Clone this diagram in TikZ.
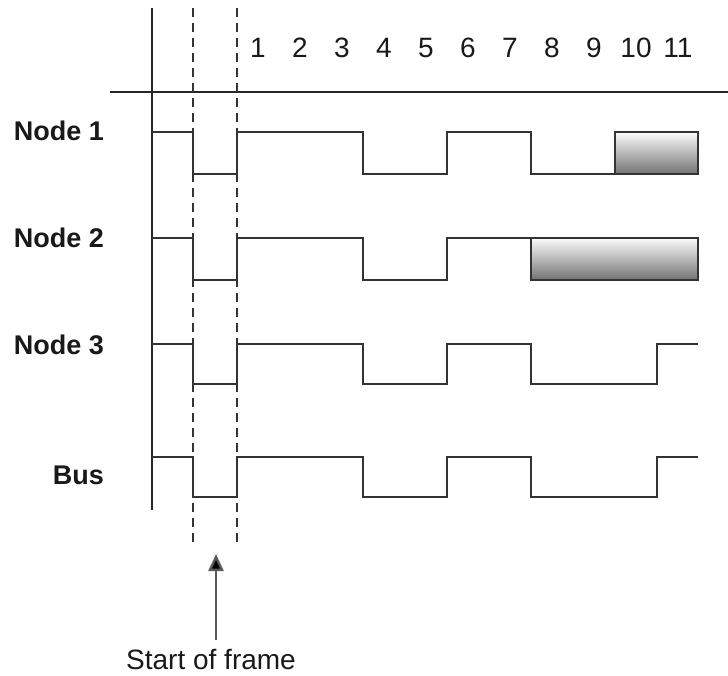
\documentclass[tikz,border=0pt]{standalone}
\usepackage{fontspec}
\setmainfont{Liberation Sans}
\usetikzlibrary{arrows.meta}
\tikzset{
  sig/.style={draw=black!80, line width=2.8pt, line join=miter},
  box/.style={draw=black!80, line width=2.8pt, top color=gray!3, bottom color=black!55},
  frame/.style={draw=black!85, line width=2.2pt},
  dashv/.style={draw=black!80, line width=1.8pt, dash pattern=on 9pt off 6pt},
  lbl/.style={font=\fontsize{27}{31}\selectfont\bfseries, text=black!90, anchor=east, inner sep=0pt},
  num/.style={font=\fontsize{28}{32}\selectfont, text=black!90, inner sep=0pt},
  captxt/.style={font=\fontsize{28}{32}\selectfont, text=black!90, inner sep=0pt},
  arr/.style={draw=black!65, line width=2.4pt, -{Triangle[length=17pt,width=15pt,fill=black]}}
}
\begin{document}
\begin{tikzpicture}[x=1pt,y=-1pt]
\useasboundingbox (0,0) rectangle (728,675);
\fill[white] (0,0) rectangle (728,675);
% axes
\draw[frame] (152,8) -- (152,510);
\draw[frame] (110,92) -- (728,92);
\draw[dashv] (193,8) -- (193,546);
\draw[dashv] (237,8) -- (237,546);
% bit numbers
\foreach \k in {1,...,11}{
  \node[num] (n\k) at ({237+42*(\k-0.5)},48) {\k};
}
% labels
\node[lbl] (l1) at (104,131) {Node 1};
\node[lbl] (l2) at (104,238) {Node 2};
\node[lbl] (l3) at (104,345) {Node 3};
\node[lbl] (lb) at (104,475) {Bus};
% Node 1
\draw[sig] (152,132) -- (193,132) -- (193,174) -- (237,174) -- (237,132) -- (363,132) -- (363,174) -- (447,174) -- (447,132) -- (531,132) -- (531,174) -- (615,174);
\path[box] (615,132) rectangle (698,174);
% Node 2
\draw[sig] (152,238) -- (193,238) -- (193,280) -- (237,280) -- (237,238) -- (363,238) -- (363,280) -- (447,280) -- (447,238) -- (531,238);
\path[box] (531,238) rectangle (698,280);
% Node 3
\draw[sig] (152,344) -- (193,344) -- (193,384) -- (237,384) -- (237,344) -- (363,344) -- (363,384) -- (447,384) -- (447,344) -- (531,344) -- (531,384) -- (657,384) -- (657,344) -- (698,344);
% Bus
\draw[sig] (152,457) -- (193,457) -- (193,497) -- (237,497) -- (237,457) -- (363,457) -- (363,497) -- (447,497) -- (447,457) -- (531,457) -- (531,497) -- (657,497) -- (657,457) -- (698,457);
% start of frame
\node[captxt] (sof) at (211,659) {Start of frame};
\coordinate (tip) at (216,554);
\draw[arr] (216,640) -- (tip);
\end{tikzpicture}
\end{document}
